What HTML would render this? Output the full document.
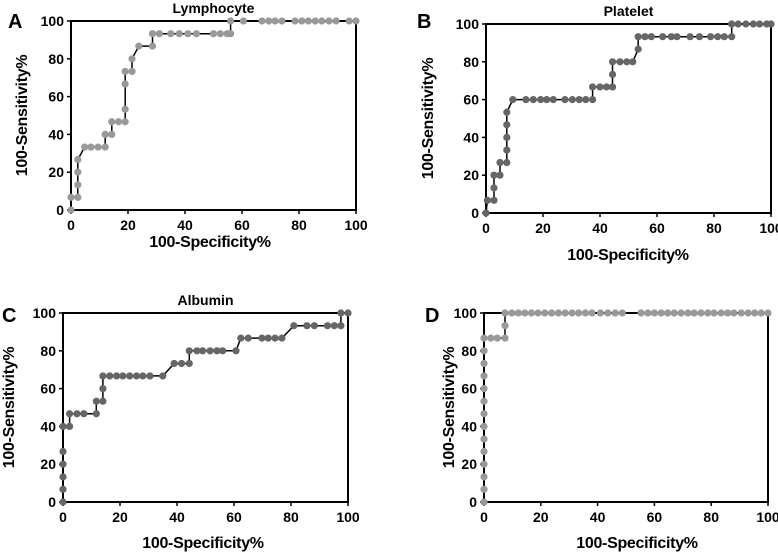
<!DOCTYPE html>
<html><head><meta charset="utf-8"><style>
html,body{margin:0;padding:0;background:#fff;}
svg{display:block;font-family:"Liberation Sans",Arial,sans-serif;font-weight:bold;}
</style></head><body>
<svg id="chart" width="778" height="552" viewBox="0 0 778 552" xmlns="http://www.w3.org/2000/svg"></svg>
<script>
const tickValues = [0, 20, 40, 60, 80, 100];
const tickLabels = ["0", "20", "40", "60", "80", "100"];

const lymphX = [0,0,2.4,2.4,2.4,2.4,4.8,7,9.5,12,12,14.3,14.3,16.7,19,19,19,19,21.4,21.4,23.8,28.6,28.6,31,35,38,41,44,50,52.4,54.8,56,56,60.5,67,69.4,71.6,74,78.6,81,83.3,85.7,88,90.5,93,97.6,100];
const lymphY = [0,6.7,6.7,13.3,20,26.7,33.3,33.3,33.3,33.3,40,40,46.7,46.7,46.7,53.3,66.7,73.3,73.3,80,86.7,86.7,93.3,93.3,93.3,93.3,93.3,93.3,93.3,93.3,93.3,93.3,100,100,100,100,100,100,100,100,100,100,100,100,100,100,100];

const plateletX = [0,0.5,2.8,2.8,2.8,4.9,4.9,7.3,7.3,7.3,7.3,7.3,9.4,14,16.6,19.2,21.3,23.6,27.7,30.3,32.7,35,37.4,37.4,40,42.3,44.4,44.4,44.4,47,49.4,51.5,53.4,53.4,55.8,58,62,65,67,71.6,74.9,78.8,81.3,83.6,86.2,86.2,88.5,91.2,93.8,96,98.5,100];
const plateletY = [0,6.7,6.7,13.3,20,20,26.7,26.7,33.3,40,46.7,53.3,60,60,60,60,60,60,60,60,60,60,60,66.7,66.7,66.7,66.7,73.3,80,80,80,80,86.7,93.3,93.3,93.3,93.3,93.3,93.3,93.3,93.3,93.3,93.3,93.3,93.3,100,100,100,100,100,100,100];

const albuminX = [0,0,0,0,0,0,2.3,2.3,4.9,7.3,11.7,11.7,14,14,14,16.4,18.8,21,23.4,25.8,28,30.5,35,39,41.6,44.3,44.3,47,49,51.6,54,56,60.7,62.4,65,69.8,72,74.4,76.8,81,85.6,88.2,92.8,95.2,97.5,97.5,100];
const albuminY = [0,6.7,13.3,20,26.7,40,40,46.7,46.7,46.7,46.7,53.3,53.3,60,66.7,66.7,66.7,66.7,66.7,66.7,66.7,66.7,66.7,73.3,73.3,73.3,80,80,80,80,80,80,80,86.7,86.7,86.7,86.7,86.7,86.7,93.3,93.3,93.3,93.3,93.3,93.3,100,100];

const panelDX = [0,0,0,0,0,0,0,0,0,0,0,0,0,0,2.4,4.7,7.4,7.4,7.4,9.8,12.1,14.4,16.7,19,21.4,23.8,26.2,28.6,31,33.3,35.7,38,41,43.6,46.2,48.7,55.3,57.7,60,62.4,64.7,67,69.4,71.8,74,76.4,78.8,81,83.5,85.8,88,90.6,93,95.3,97.6,100];
const panelDY = [0,6.7,13.3,20,26.7,33.3,40,46.7,53.3,60,66.7,73.3,80,86.7,86.7,86.7,86.7,93.3,100,100,100,100,100,100,100,100,100,100,100,100,100,100,100,100,100,100,100,100,100,100,100,100,100,100,100,100,100,100,100,100,100,100,100,100,100,100];

const NS = "http://www.w3.org/2000/svg";
const svg = document.getElementById('chart');
function mk(tag, attrs, parent){
  const e = document.createElementNS(NS, tag);
  for (const k in attrs) e.setAttribute(k, attrs[k]);
  (parent||svg).appendChild(e);
  return e;
}
function txt(s, attrs, parent){ const t = mk('text', attrs, parent); t.textContent = s; return t; }

function panel(p){
  const g = mk('g', {});
  
  
  const sx = v => p.l + (p.r - p.l) * v / 100;
  const sy = v => p.b - (p.b - p.t) * v / 100;
  const frame = mk('rect', {x:p.l, y:p.t, width:p.r-p.l, height:p.b-p.t, fill:'none', stroke:'#000', 'stroke-width':2}, g);
  
  
  tickValues.forEach((v,i)=>{
    const tx = mk('line',{x1:sx(v),x2:sx(v),y1:p.b,y2:p.b+4,stroke:'#000','stroke-width':1.5},g);
    
    
    const lx = txt(tickLabels[i], {x:sx(v), y:p.b+20, 'text-anchor':'middle', 'font-size':14}, g);
    
    
    const ty = mk('line',{x1:p.l-4,x2:p.l,y1:sy(v),y2:sy(v),stroke:'#000','stroke-width':1.5},g);
    
    
    const ly = txt(tickLabels[i], {x:p.l-7, y:sy(v)+5, 'text-anchor':'end', 'font-size':14}, g);
    
    
  });
  const d = p.xs.map((x,i)=>(i?'L':'M')+sx(x).toFixed(1)+','+sy(p.ys[i]).toFixed(1)).join(' ');
  const line = mk('path',{d:d,fill:'none',stroke:'#000','stroke-width':1.5},g);
  
  
  p.xs.forEach((x,i)=>{
    const c = mk('circle',{cx:sx(x),cy:sy(p.ys[i]),r:3.6,fill:p.color},g);
    
    
  });
  if (p.title){
    const t = txt(p.title,{x:(p.l+p.r)/2,y:p.t-8,'text-anchor':'middle','font-size':14},g);
    
    
  }
  const letter = txt(p.letter,{x:p.lx,y:p.ly,'font-size':20},g);
  
  
  const xl = txt('100-Specificity%',{x:p.xlx,y:p.xly,'text-anchor':'middle','font-size':16,'letter-spacing':'-0.3'},g);
  
  
  const yl = txt('100-Sensitivity%',{x:0,y:0,'text-anchor':'middle','font-size':16,'letter-spacing':'-0.3',transform:'translate('+p.ylx+','+((p.t+p.b)/2)+') rotate(-90)'},g);
  
  
}

panel({key:'lymphocyte',letter:'A',title:'Lymphocyte',l:71,r:356,t:21,b:210,xs:lymphX,ys:lymphY,color:'#999',lx:8,ly:28,xlx:210,xly:247,ylx:27});
panel({key:'platelet',letter:'B',title:'Platelet',l:486,r:771,t:24,b:213,xs:plateletX,ys:plateletY,color:'#666',lx:417,ly:28,xlx:628,xly:260,ylx:433});
panel({key:'albumin',letter:'C',title:'Albumin',l:63,r:348,t:313,b:502,xs:albuminX,ys:albuminY,color:'#666',lx:2,ly:322,xlx:203,xly:548,ylx:14});
panel({key:'panel-d',letter:'D',title:'',l:484,r:768,t:313,b:502,xs:panelDX,ys:panelDY,color:'#999',lx:425,ly:322,xlx:637,xly:548,ylx:454});
</script>
</body></html>
